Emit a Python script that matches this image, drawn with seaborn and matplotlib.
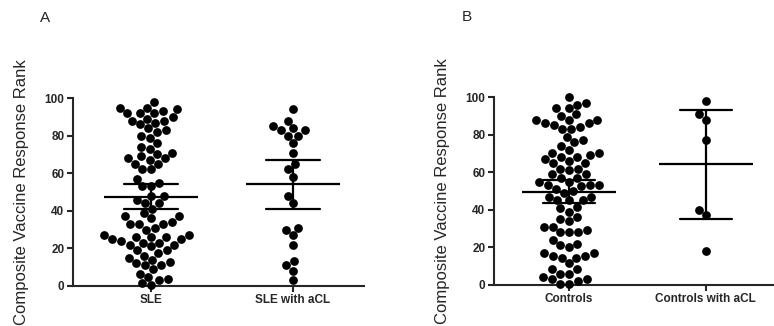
import numpy as np
import pandas as pd
import matplotlib
matplotlib.use("Agg")
import matplotlib.pyplot as plt
import seaborn as sns

# values (composite vaccine response rank)
sle = [98, 95, 95, 94, 93, 92, 92, 92, 90, 88, 87, 89, 88, 86, 84, 83, 82, 80,
       79, 76, 73, 74, 71, 70, 69, 68, 67, 68, 65, 65, 62, 62, 57, 55, 53, 53,
       48, 48, 46, 44, 44, 41, 37, 37, 39, 36, 33, 33, 33, 34, 30, 31, 26, 26,
       25, 27, 27, 26, 25, 23, 23, 24, 22, 21, 22, 19, 19, 17.5, 16, 14, 12.5,
       11, 11, 12, 15, 9, 5, 3, 3.5, 6.5, 0.5, 1.5]
sle_acl = [94, 88, 85, 84, 83, 83, 80, 80, 76, 71, 65, 62, 58, 48, 44, 31, 30,
           27, 22, 13, 11, 8, 3]
controls = [100, 97, 96, 94, 94, 91, 90, 88, 88, 88, 86, 86, 84, 85, 83, 83, 79,
            77, 76, 74, 72, 70, 70, 69, 68, 68, 67, 66, 65, 65, 62, 62, 61, 59,
            59, 57, 57, 55, 55, 53, 52.5, 53, 53, 51, 50, 49, 47, 47, 45, 45, 45,
            41.5, 40.7, 39, 36, 35, 34, 31, 31, 28, 28, 29, 28, 24, 22, 20, 21,
            17, 17, 15.6, 14.5, 14.5, 15.6, 11.5, 8.3, 8.3, 6, 6, 3, 3, 4, 2,
            0.5, 0.5]
controls_acl = [98, 91, 88, 77, 40, 37, 18]

panels = [
    ("A", ["SLE", "SLE with aCL"], [sle, sle_acl]),
    ("B", ["Controls", "Controls with aCL"], [controls, controls_acl]),
]


def t_ci(x):
    # mean +/- t * SE (95%), t from a Cornish-Fisher expansion
    x = np.asarray(x, dtype=float)
    n = len(x)
    df = n - 1
    z = 1.959964
    t = z + (z**3 + z) / (4 * df) + (5 * z**5 + 16 * z**3 + 3 * z) / (96 * df**2)
    m = x.mean()
    h = t * x.std(ddof=1) / np.sqrt(n)
    return m - h, m + h


sns.set_style("ticks")
plt.rcParams["font.family"] = ["Liberation Sans", "DejaVu Sans"]

fig = plt.figure(figsize=(7.74, 3.26), dpi=100)
positions = [[0.094, 0.123, 0.376, 0.576], [0.638, 0.126, 0.362, 0.576]]

for (letter, groups, values), pos in zip(panels, positions):
    ax = fig.add_axes(pos)
    df = pd.DataFrame({
        "group": np.repeat(groups, [len(v) for v in values]),
        "rank": np.concatenate(values),
    })
    sns.swarmplot(data=df, x="group", y="rank", order=groups, color="black",
                  size=6.3, ax=ax, clip_on=False, zorder=3)
    sns.pointplot(data=df, x="group", y="rank", order=groups, errorbar=t_ci,
                  capsize=0.38, linestyle="none", marker="_", markersize=68,
                  markeredgewidth=1.6, color="black",
                  err_kws={"linewidth": 1.6, "zorder": 6}, zorder=6, ax=ax)
    ax.set_ylim(0, 100)
    ax.set_xlim(-0.55, 1.5)
    ax.set_yticks([0, 20, 40, 60, 80, 100])
    ax.set_xlabel("")
    ax.set_ylabel("Composite Vaccine Response Rank", fontsize=12, labelpad=11)
    sns.despine(ax=ax)
    for s in ["left", "bottom"]:
        ax.spines[s].set_linewidth(1.5)
    ax.tick_params(width=1.5, length=4, labelsize=8.5, pad=2)
    for lab in ax.get_xticklabels() + ax.get_yticklabels():
        lab.set_fontweight("bold")
    ax.text(-0.096, 1.425, letter, transform=ax.transAxes, fontsize=11,
            ha="center", va="center")

fig.savefig("out.png", dpi=100)
